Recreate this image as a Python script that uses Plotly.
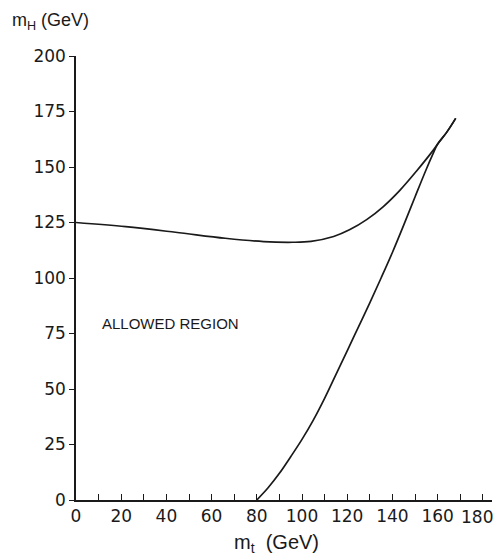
import plotly.graph_objects as go

# Upper boundary curve (m_t, m_H) in GeV
upper_mt = [0, 22, 44, 66, 83, 96, 104, 114, 121, 128.6, 136, 143.4, 150.7, 158.1, 160, 164, 168]
upper_mh = [125, 123.1, 120.6, 117.9, 116.4, 116.1, 116.5, 118.7, 121.7, 126.3, 132.2, 139.6, 148.2, 157.6, 160.3, 165.6, 171.9]

# Lower boundary curve (m_t, m_H) in GeV
lower_mt = [80, 85, 90, 95, 100, 105, 110, 115, 120, 125, 130, 135, 140, 145, 150, 155, 158, 160, 164, 168]
lower_mh = [0, 5.5, 12, 19.5, 27.3, 36, 45.8, 56.5, 67.2, 78, 88.8, 100, 111.5, 123.8, 136.5, 149, 156, 160.3, 165.6, 171.9]

x_ticks = [0, 20, 40, 60, 80, 100, 120, 140, 160, 180]
x_minor = [10, 30, 50, 70, 90, 110, 130, 150, 170]
y_ticks = [0, 25, 50, 75, 100, 125, 150, 175, 200]

TICKFONT = "DejaVu Sans"
FONT = "Liberation Sans"
INK = "#1a1a1a"

W, H = 495, 558
L, R, T, B = 76, 3, 56, 58
PW = W - L - R
PH = H - T - B

label_ticks = x_ticks[:-1]

fig = go.Figure()
fig.add_trace(go.Scatter(x=upper_mt, y=upper_mh, mode="lines",
                         line=dict(color=INK, width=1.7, shape="spline", smoothing=1.0),
                         showlegend=False, hoverinfo="skip"))
fig.add_trace(go.Scatter(x=lower_mt, y=lower_mh, mode="lines",
                         line=dict(color=INK, width=1.7, shape="spline", smoothing=1.0),
                         showlegend=False, hoverinfo="skip"))

fig.update_layout(
    width=W, height=H,
    margin=dict(l=L, r=R, t=T, b=B, autoexpand=False),
    paper_bgcolor="white", plot_bgcolor="white",
    font=dict(family=FONT, color=INK, size=16),
    xaxis=dict(range=[0, PW / 2.26], tickmode="array", tickvals=label_ticks,
               ticktext=[str(v) for v in label_ticks],
               ticks="inside", ticklen=6, tickwidth=1.2, tickcolor=INK,
               minor=dict(tickmode="array", tickvals=x_minor + [x_ticks[-1]], ticks="inside",
                          ticklen=6, tickwidth=1.2, tickcolor=INK),
               showline=True, linecolor=INK, linewidth=1.5,
               showgrid=False, zeroline=False, ticklabeloverflow="allow",
               tickfont=dict(size=17, family=TICKFONT, color=INK)),
    yaxis=dict(range=[0, 200], tickmode="array", tickvals=y_ticks,
               ticktext=[str(v) for v in y_ticks],
               ticks="outside", ticklen=5, tickwidth=1.2, tickcolor=INK,
               showline=True, linecolor=INK, linewidth=1.5,
               showgrid=False, zeroline=False, ticklabeloverflow="allow",
               tickfont=dict(size=17, family=TICKFONT, color=INK)),
    annotations=[
        dict(text="m<sub>H</sub> (GeV)", xref="paper", yref="paper",
             x=(10 - L) / PW, y=1 + (T - 21) / PH, xanchor="left", yanchor="middle",
             showarrow=False, font=dict(size=18, family=FONT, color=INK)),
        dict(text="m<sub>t</sub>  (GeV)", xref="x", yref="paper",
             x=88.5, y=-43 / PH, xanchor="center", yanchor="middle",
             showarrow=False, font=dict(size=20, family=FONT, color=INK)),
        dict(text="ALLOWED REGION", xref="x", yref="y",
             x=10.6, y=79.3, xanchor="left", yanchor="middle",
             showarrow=False, font=dict(size=15, family=FONT, color=INK)),
        dict(text=str(x_ticks[-1]), xref="paper", yref="paper",
             x=(494 - L) / PW, y=-17 / PH, xanchor="right", yanchor="middle",
             showarrow=False, borderpad=0,
             font=dict(size=17, family=TICKFONT, color=INK)),
    ],
)

fig.write_html("out.html",
               config={"displayModeBar": False},
               post_script="document.body.style.margin='0px';"
                           "document.body.style.overflow='hidden';")
